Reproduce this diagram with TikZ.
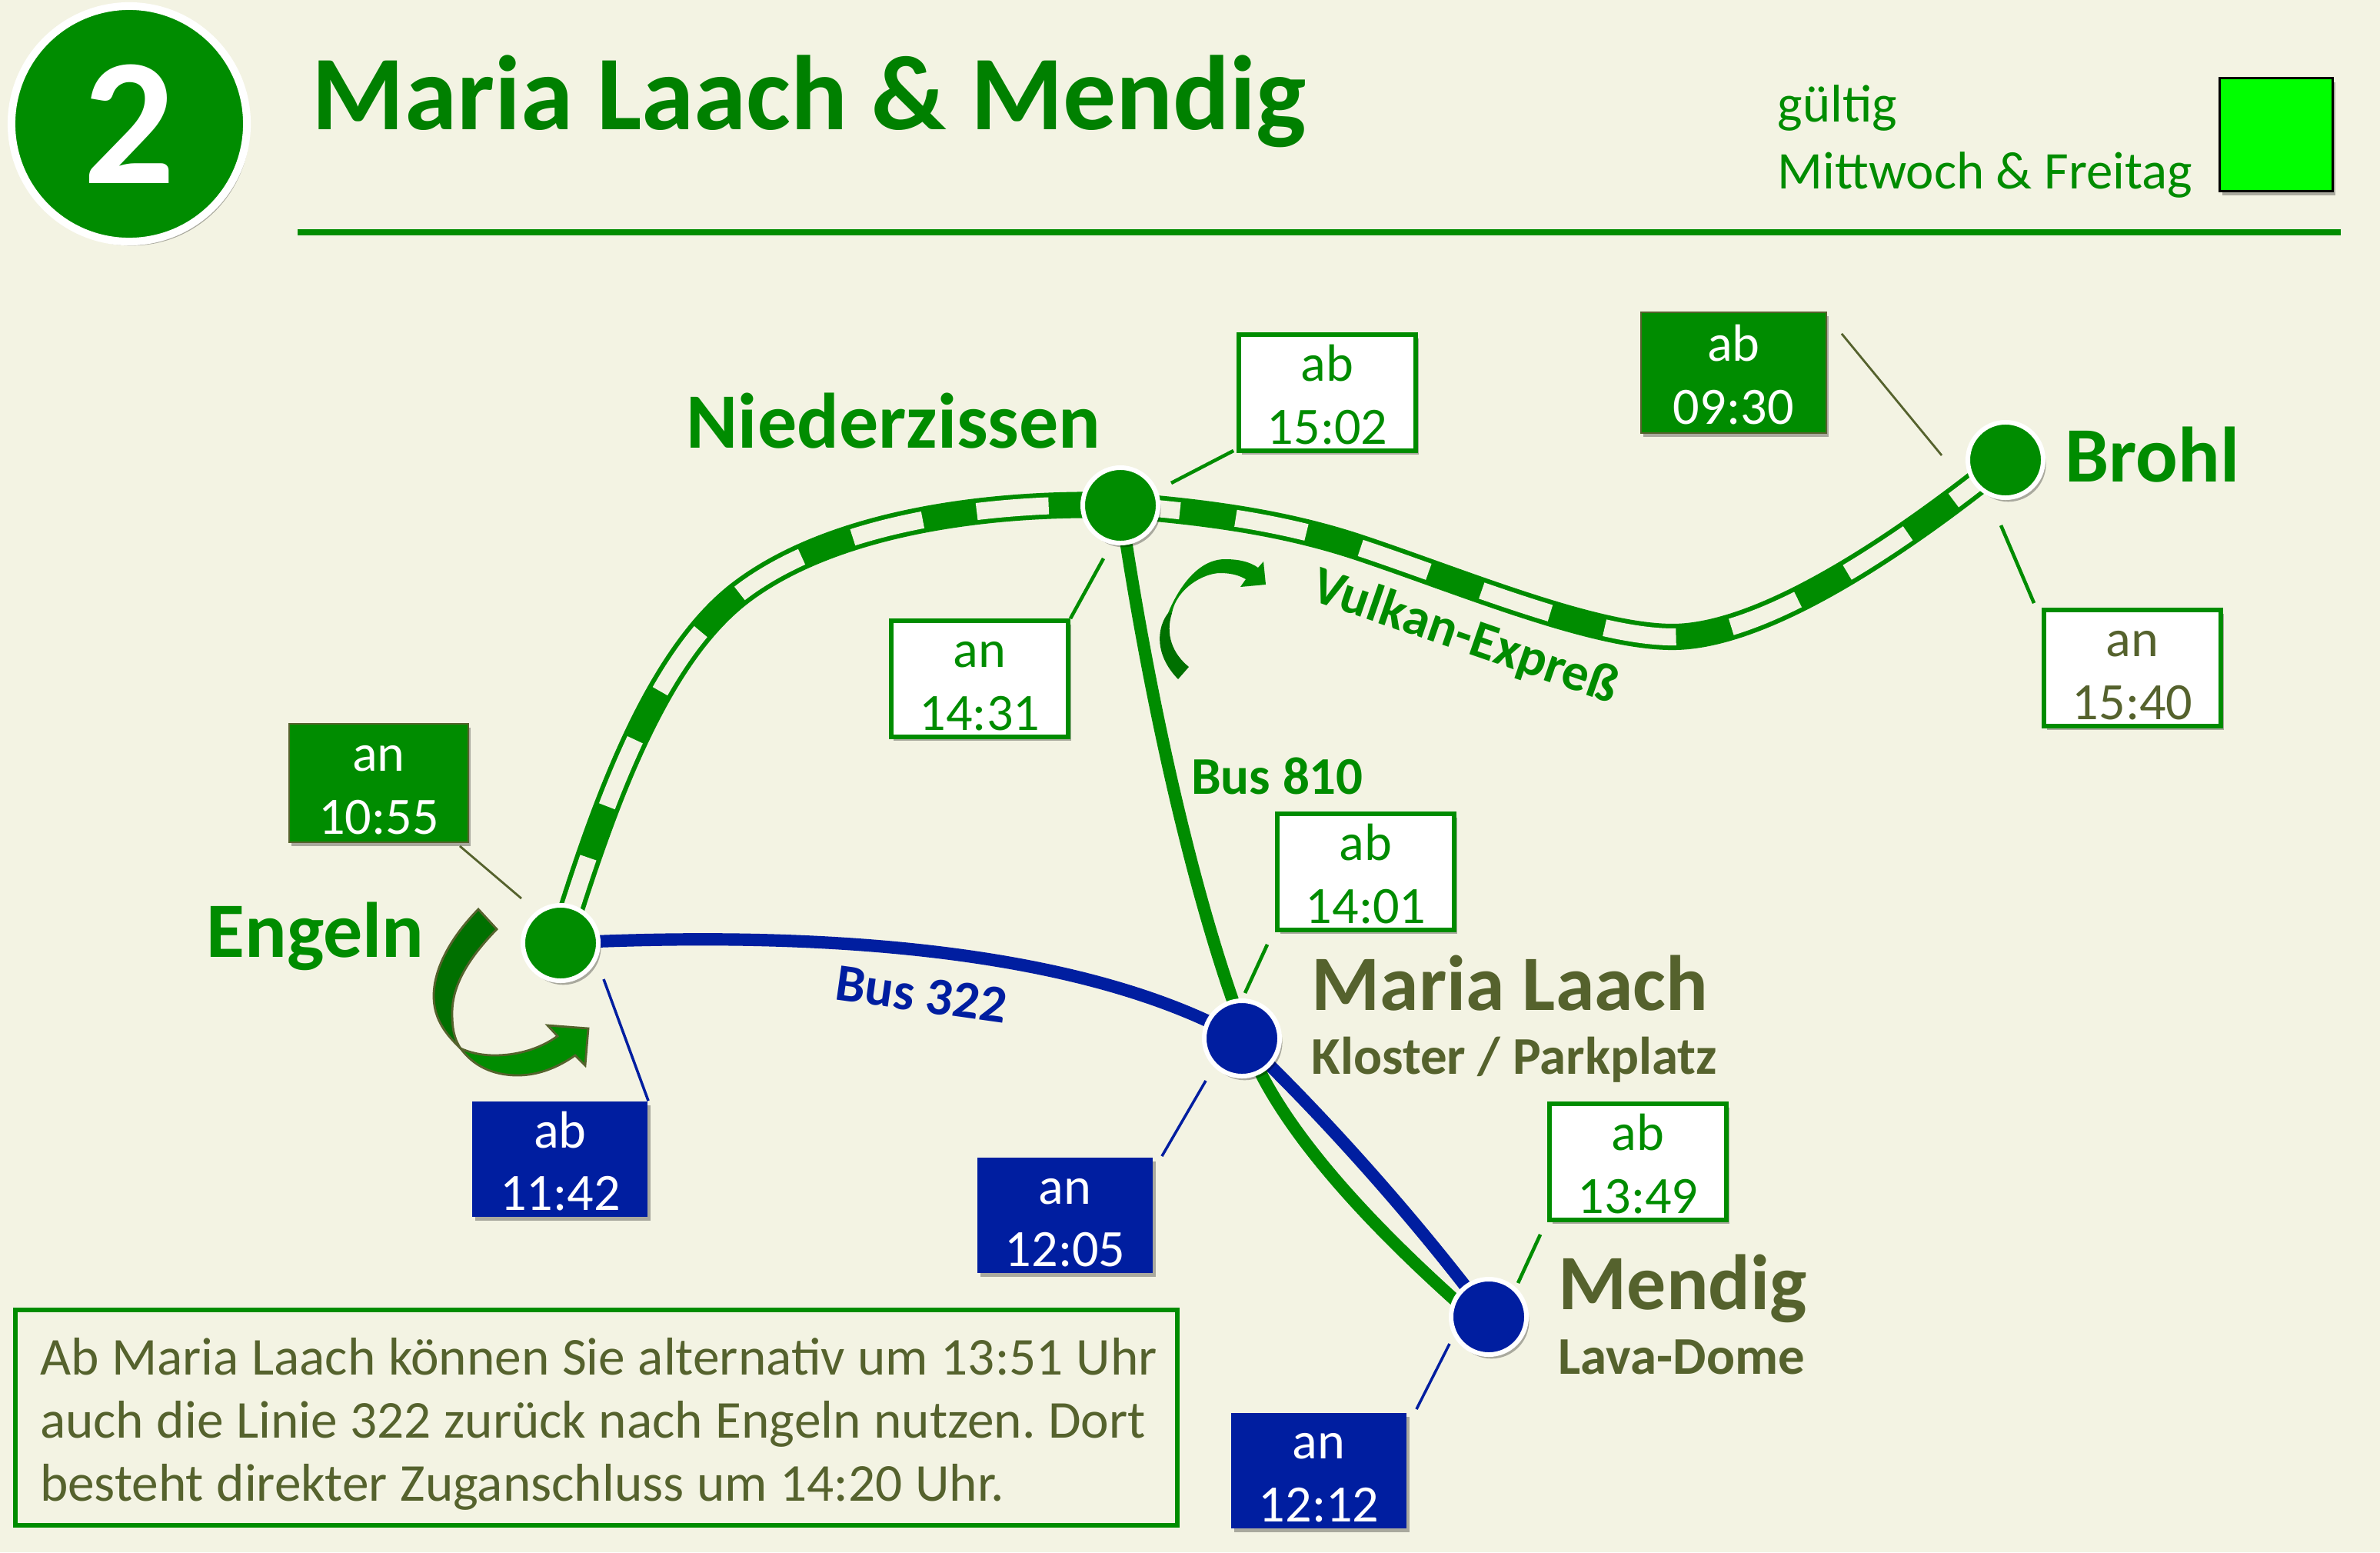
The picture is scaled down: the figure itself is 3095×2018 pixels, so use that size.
\documentclass[tikz,border=0pt]{standalone}
\usepackage{fontspec}
\setmainfont{Carlito}
\usetikzlibrary{%
	calc,%
	positioning,%
	shadows,%
	backgrounds,%
}
\definecolor{cpaper}{RGB}{243, 243, 227}
\definecolor{cgreen}{RGB}{0, 140, 0}
\definecolor{cgreendark}{RGB}{0, 112, 0}
\definecolor{ctitle}{RGB}{0, 128, 0}
\definecolor{cblue}{RGB}{0, 30, 160}
\definecolor{colive}{RGB}{85, 98, 45}
\definecolor{cbright}{RGB}{0, 255, 0}
\newcommand{\timelabel}[2]{\rule{0pt}{15pt}#1\\#2}
\newcommand{\railone}{(engeln.center) .. controls (784,1048) and (853,853) .. (965,769) .. controls (1085,679) and (1287,652) .. (niederzissen.center)}
\newcommand{\railtwo}{(niederzissen.center) .. controls (1560,665) and (1665,678) .. (1765,711) .. controls (1895,754) and (2070,828) .. (2175,828) .. controls (2300,828) and (2488,695) .. (brohl.center)}
\tikzset{
	softshadow/.style={drop shadow={shadow xshift=1pt,shadow yshift=-1.5pt,opacity=.3,fill=black}},%
	lineshadow/.style={preaction={draw=black, opacity=.22, transform canvas={xshift=.5pt,yshift=-.9pt}}},%
	timefont/.style={font={\fontsize{19.4}{23.3}\selectfont}},%
	timebox/.style={%
			rectangle,%
			timefont,%
			align=center,%
			inner sep=0,%
			softshadow},%
	timewhite/.style={%
			timebox,%
			draw=cgreen,%
			line width=1.7pt,%
			fill=white,%
			text=cgreen,%
			minimum width=2.30cm,%
			minimum height=1.51cm},%
	timegreen/.style={%
			timebox,%
			draw=colive,%
			line width=.6pt,%
			fill=cgreen,%
			text=white,%
			minimum width=2.33cm,%
			minimum height=1.54cm},%
	timeblue/.style={%
			timebox,%
			fill=cblue,%
			text=white,%
			minimum width=2.28cm,%
			minimum height=1.50cm},%
	station/.style={%
			circle,%
			draw=white,%
			line width=1.7pt,%
			minimum size=.98cm,%
			inner sep=0,%
			softshadow},%
	stationname/.style={font={\fontsize{29}{33}\selectfont\bfseries}, text=cgreen, inner sep=0, anchor=base west},%
	placename/.style={stationname, text=colive},%
	subname/.style={placename, font={\fontsize{19.6}{23}\selectfont\bfseries}},%
	linename/.style={font={\fontsize{19.6}{22}\selectfont\bfseries}, inner sep=0},%
	railouter/.style={draw=cgreen, line width=9.7pt, lineshadow},%
	railinner/.style={draw=cpaper, line width=6.3pt},%
	busgreen/.style={draw=cgreen, line width=4.6pt, lineshadow},%
	busblue/.style={draw=cblue, line width=4.6pt, lineshadow},%
	leaderolive/.style={draw=colive, line width=.8pt},%
	leadergreen/.style={draw=cgreen, line width=1.3pt},%
	leaderblue/.style={draw=cblue, line width=1pt},%
}

\begin{document}
\begin{tikzpicture}[x=.01cm, y=-.01cm]
	\useasboundingbox (0,0) rectangle (3095,2018);

	% header
	\node[circle, draw=white, line width=2.85pt, fill=cgreen, minimum size=3.06cm, inner sep=0, softshadow,
		text=white, font={\fontsize{67}{70}\selectfont\bfseries}] (number) at (168,161) {2};
	\node[anchor=base west, inner sep=0, text=ctitle, font={\fontsize{39.2}{42}\selectfont\bfseries}] (title) at (405,168) {Maria Laach \& Mendig};
	\node[anchor=base west, inner sep=0, text=cgreen, font={\fontsize{19.6}{23}\selectfont}] (valid) at (2311,158) {gültig};
	\node[anchor=base west, inner sep=0, text=cgreen, font={\fontsize{19.6}{23}\selectfont}] (days) at (2311,245) {Mittwoch \& Freitag};
	\node[draw=black, line width=.7pt, fill=cbright, minimum size=1.47cm, inner sep=0, softshadow] (swatch) at (2960,175) {};
	\draw[cgreen, line width=2.3pt] (387,302) to (3044,302);

	% stations
	\node[station, fill=cgreen] (engeln) at (729,1226) {};
	\node[station, fill=cgreen] (niederzissen) at (1457,657) {};
	\node[station, fill=cgreen] (brohl) at (2608,598) {};
	\node[station, fill=cblue] (maria) at (1615,1350) {};
	\node[station, fill=cblue] (mendig) at (1936,1712) {};

	% tracks
	\begin{scope}[on background layer]
		\fill[cpaper] (0,0) rectangle (3095,2018);
		\draw[railouter] \railone;
		\draw[railinner, dash pattern=on 26.7pt off 20.2pt, dash phase=40.4pt] \railone;
		\draw[railouter] \railtwo;
		\draw[railinner, dash pattern=on 26.7pt off 20.8pt, dash phase=4.6pt] \railtwo;
		\draw[busblue] (engeln.center) .. controls (1050,1210) and (1400,1230) .. (maria.center);
		\draw[busblue] (maria.center) .. controls (1700,1430) and (1830,1570) .. (mendig.center);
		\draw[busgreen] (niederzissen.center) .. controls (1500,950) and (1570,1240) .. (1642,1400) .. controls (1695,1500) and (1800,1610) .. ($(mendig)+(-16,3)$);
	\end{scope}

	% place names
	\node[stationname] (nameniederzissen) at (892,582) {Niederzissen};
	\node[stationname] (nameengeln) at (268,1244) {Engeln};
	\node[stationname] (namebrohl) at (2685,626) {Brohl};
	\node[placename] (namemaria) at (1705,1313) {Maria Laach};
	\node[subname] (submaria) at (1705,1396) {Kloster / Parkplatz};
	\node[placename] (namemendig) at (2026,1702) {Mendig};
	\node[subname] (submendig) at (2026,1786) {Lava-Dome};

	% line names
	\node[linename, text=cgreen, rotate=-19] (vulkan) at (1905,829) {Vulkan-Expreß};
	\node[linename, text=cblue, rotate=-8] (bus322) at (1198,1293) {Bus 322};
	\node[linename, text=cgreen] (bus810) at (1661,1009) {Bus 810};

	% times
	\node[timewhite, above right=.68cm and 1.51cm of niederzissen.center] (abniederzissen) {\timelabel{ab}{15:02}};
	\node[timewhite, below left=1.47cm and .65cm of niederzissen.center] (anniederzissen) {\timelabel{an}{14:31}};
	\node[timegreen, minimum width=2.41cm, minimum height=1.57cm, above left=.34cm and 2.32cm of brohl.center] (abbrohl) {\timelabel{ab}{09:30}};
	\node[timewhite, text=colive, below right=1.92cm and .47cm of brohl.center] (anbrohl) {\timelabel{an}{15:40}};
	\node[timegreen, above left=1.30cm and 1.19cm of engeln.center] (anengeln) {\timelabel{an}{10:55}};
	\node[timeblue, below right=2.05cm and 1.14cm of engeln.center, anchor=north east] (abengeln) {\timelabel{ab}{11:42}};
	\node[timewhite, above right=1.38cm and .43cm of maria.center] (abmaria) {\timelabel{ab}{14:01}};
	\node[timeblue, below left=1.54cm and 1.15cm of maria.center, anchor=north east] (anmaria) {\timelabel{an}{12:05}};
	\node[timewhite, above right=1.23cm and .76cm of mendig.center] (abmendig) {\timelabel{ab}{13:49}};
	\node[timeblue, below left=1.24cm and 1.06cm of mendig.center, anchor=north east] (anmendig) {\timelabel{an}{12:12}};

	\draw[leadergreen] ($(abniederzissen.south west)+(-4,-3)$) to ($(niederzissen)+(66,-29)$);
	\draw[leadergreen] (anniederzissen.north east) to ($(niederzissen)+(-22,69)$);
	\draw[leaderolive] ($(abbrohl.north east)+(19,29)$) to ($(brohl)+(-83,-6)$);
	\draw[leadergreen] ($(anbrohl.north west)+(-10,-6)$) to ($(brohl)+(-6,85)$);
	\draw[leaderolive] ($(anengeln.south east)+(-12,4)$) to ($(engeln)+(-51,-58)$);
	\draw[leaderblue] (abengeln.north east) to ($(engeln)+(56,47)$);
	\draw[leadergreen] ($(abmaria.south west)+(-10,16)$) to ($(maria)+(4,-59)$);
	\draw[leaderblue] ($(anmaria.north east)+(11,-1)$) to ($(maria)+(-47,55)$);
	\draw[leadergreen] ($(abmendig.south west)+(-9,16)$) to ($(mendig)+(38,-44)$);
	\draw[leaderblue] ($(anmendig.north east)+(12,-4)$) to ($(mendig)+(-51,35)$);

	% change arrows
	\begin{scope}[on background layer]
		\filldraw[cgreen, draw=colive, line width=.8pt] (599,1363) .. controls (615,1385) and (640,1398) .. (673,1398) .. controls (700,1398) and (725,1388) .. (748,1372) -- (761,1385) -- (765,1337) -- (712,1333) -- (725,1347) .. controls (700,1365) and (670,1372) .. (643,1372) .. controls (625,1372) and (610,1368) .. (599,1363) -- cycle;
		\filldraw[cgreendark, draw=colive, line width=.8pt] (622,1182) .. controls (585,1220) and (564,1260) .. (564,1295) .. controls (564,1325) and (580,1345) .. (599,1363) .. controls (590,1350) and (588,1335) .. (588,1317) .. controls (588,1280) and (610,1245) .. (646,1208) -- cycle;
		\fill[cgreen] (1519,797) .. controls (1530,770) and (1555,727) .. (1593,727) .. controls (1610,727) and (1625,730) .. (1636,738) -- (1643,730) -- (1646,760) -- (1613,763) -- (1620,753) .. controls (1610,747) and (1598,745) .. (1587,745) .. controls (1565,745) and (1530,765) .. (1524,797) -- cycle;
		\fill[cgreendark] (1519,797) .. controls (1505,815) and (1500,850) .. (1532,883) -- (1546,867) .. controls (1525,850) and (1515,825) .. (1524,797) -- cycle;
	\end{scope}

	% note
	\node[draw=cgreen, line width=1.7pt, fill=cpaper, anchor=north west, minimum width=15.10cm, minimum height=2.80cm, text width=14.80cm,
		inner sep=0, align=left, text=colive, font={\fontsize{19.7}{23.3}\selectfont},
		execute at begin node={\leftskip=.17cm\spaceskip=.24em\relax\xspaceskip=.24em\relax}] (note) at (17,1700) {\rule{0pt}{18.3pt}Ab Maria Laach können Sie alternativ um 13:51 Uhr\\auch die Linie 322 zurück nach Engeln nutzen. Dort\\besteht direkter Zuganschluss um 14:20 Uhr.};
\end{tikzpicture}
\end{document}
